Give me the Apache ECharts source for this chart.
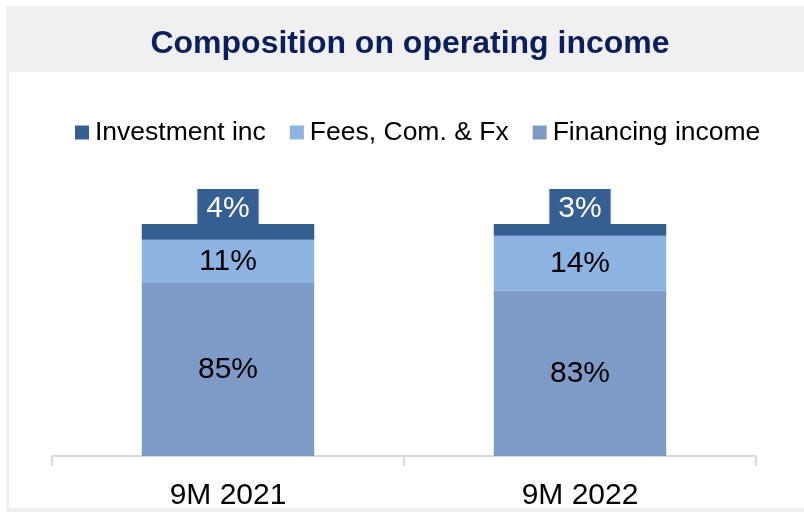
<!DOCTYPE html>
<html>
<head>
<meta charset="utf-8">
<script src="https://cdn.jsdelivr.net/npm/echarts@6/dist/echarts.min.js"></script>
<style>
  html, body { margin: 0; padding: 0; background: #fff; }
  #chart { width: 804px; height: 512px; }
</style>
</head>
<body>
<div id="chart"></div>
<script>
// Share of operating income by source, in percent.
var categories = ["9M 2021", "9M 2022"];
var financingIncome = [85, 83];
var feesComFx = [11, 14];
var investmentInc = [4, 3];

var FONT = "Arial, 'Liberation Sans', sans-serif";

var chart = echarts.init(document.getElementById("chart"));

chart.setOption({
  animation: false,
  backgroundColor: "#ffffff",
  // grey frame and title band behind the plot
  graphic: [
    { type: "rect", z: -10, shape: { x: 6, y: 6, width: 798, height: 506 }, style: { fill: "#f0f0f0" } },
    { type: "rect", z: -9, shape: { x: 9, y: 72, width: 795, height: 436 }, style: { fill: "#ffffff" } }
  ],
  title: {
    text: "Composition on operating income",
    left: 405,
    textAlign: "center",
    top: 23,
    textStyle: { fontFamily: FONT, fontSize: 32, fontWeight: "bold", color: "#0b1f5c" }
  },
  legend: {
    data: ["Investment inc", "Fees, Com. & Fx", "Financing income"],
    left: 70,
    top: 114,
    icon: "rect",
    itemWidth: 14,
    itemHeight: 14,
    itemGap: 24,
    textStyle: { fontFamily: FONT, fontSize: 26.5, color: "#000", padding: [0, 0, 0, 1] }
  },
  grid: { left: 52, right: 48, top: 224, bottom: 56 },
  xAxis: {
    type: "category",
    data: categories,
    axisLine: { lineStyle: { color: "#d9d9d9", width: 2 } },
    axisTick: { show: true, interval: 0, length: 10, lineStyle: { color: "#d9d9d9", width: 2 } },
    axisLabel: { fontFamily: FONT, fontSize: 30, color: "#000", margin: 25 }
  },
  yAxis: { type: "value", min: 41, max: 100, show: false, splitLine: { show: false } },
  series: [
    {
      name: "Financing income",
      type: "bar",
      stack: "total",
      barWidth: "49%",
      data: financingIncome,
      itemStyle: { color: "#7e9bc8" },
      label: { show: true, position: "inside", formatter: "{c}%", fontFamily: FONT, fontSize: 30, color: "#000" }
    },
    {
      name: "Fees, Com. & Fx",
      type: "bar",
      stack: "total",
      data: feesComFx,
      itemStyle: { color: "#8db3e2" },
      label: { show: true, position: "inside", formatter: "{c}%", fontFamily: FONT, fontSize: 30, color: "#000" }
    },
    {
      name: "Investment inc",
      type: "bar",
      stack: "total",
      data: investmentInc,
      itemStyle: { color: "#365f91" },
      label: {
        show: true,
        position: "top",
        distance: 0,
        formatter: "{c}%",
        fontFamily: FONT,
        fontSize: 30,
        color: "#fff",
        backgroundColor: "#365f91",
        lineHeight: 30,
        padding: [5, 9, 0, 9]
      }
    }
  ]
});
</script>
</body>
</html>
